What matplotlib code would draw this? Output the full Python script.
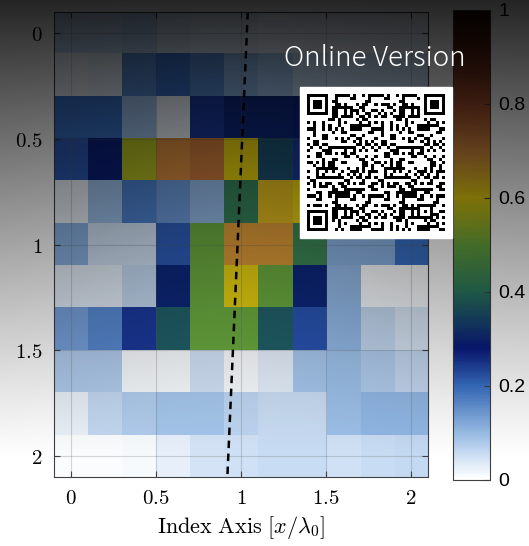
import matplotlib
matplotlib.use("Agg")
import matplotlib.pyplot as plt
import numpy as np
from matplotlib.colors import LinearSegmentedColormap
from matplotlib.patches import Rectangle

plt.rcParams['mathtext.fontset'] = 'cm'

# cell centres (x/lambda0 and index axis)
x_centers = [0, 0.2, 0.4, 0.6, 0.8, 1.0, 1.2, 1.4, 1.6, 1.8, 2.0]
y_centers = [0, 0.2, 0.4, 0.6, 0.8, 1.0, 1.2, 1.4, 1.6, 1.8, 2.0]

# values (rows top -> bottom)
values = [
    [0.07, 0.07, 0.08, 0.05, 0.04, 0.04, 0.03, 0.03, 0.03, 0.03, 0.03],
    [0.02, 0.03, 0.17, 0.20, 0.17, 0.12, 0.10, 0.07, 0.06, 0.06, 0.06],
    [0.20, 0.20, 0.10, 0.02, 0.25, 0.30, 0.30, 0.29, 0.20, 0.12, 0.10],
    [0.22, 0.29, 0.56, 0.70, 0.73, 0.60, 0.35, 0.25, 0.15, 0.10, 0.08],
    [0.02, 0.10, 0.18, 0.15, 0.11, 0.42, 0.63, 0.60, 0.30, 0.12, 0.08],
    [0.12, 0.05, 0.05, 0.22, 0.50, 0.68, 0.68, 0.43, 0.12, 0.12, 0.20],
    [0.03, 0.03, 0.06, 0.30, 0.50, 0.60, 0.50, 0.30, 0.11, 0.01, 0.01],
    [0.14, 0.17, 0.25, 0.37, 0.50, 0.50, 0.37, 0.23, 0.11, 0.06, 0.04],
    [0.08, 0.08, 0.01, 0.01, 0.05, 0.01, 0.03, 0.09, 0.10, 0.08, 0.06],
    [0.02, 0.06, 0.08, 0.09, 0.09, 0.07, 0.055, 0.055, 0.10, 0.11, 0.11],
    [0.005, 0.005, 0.01, 0.025, 0.045, 0.05, 0.055, 0.055, 0.05, 0.055, 0.06],
]

dash_x = [1.04, 0.92]
dash_y = [-0.1, 2.1]

x_ticks = [0, 0.5, 1, 1.5, 2]
y_ticks = [0, 0.5, 1, 1.5, 2]
cb_ticks = [0, 0.2, 0.4, 0.6, 0.8, 1]

cmap = LinearSegmentedColormap.from_list("custom", [
    (0.0, "#ffffff"), (0.1, "#9cc0ea"), (0.2, "#3a72c8"), (0.28, "#0a1a80"),
    (0.4, "#2a7860"), (0.5, "#68a840"), (0.6, "#e2cc10"), (0.7, "#d88e40"),
    (0.8, "#a85030"), (0.9, "#602818"), (1.0, "#200800")])

fig = plt.figure(figsize=(5.29, 5.46), dpi=100)
ax = fig.add_axes([0.102, 0.126, 0.707, 0.852])

dx = (x_centers[1] - x_centers[0]) / 2
dy = (y_centers[1] - y_centers[0]) / 2
im = ax.imshow(np.array(values), cmap=cmap, vmin=0, vmax=1, aspect='auto',
               interpolation='nearest',
               extent=[x_centers[0] - dx, x_centers[-1] + dx,
                       y_centers[-1] + dy, y_centers[0] - dy])
ax.plot(dash_x, dash_y, color='black', ls=(0, (3, 2.2)), lw=1.8)

ax.set_xticks(x_ticks)
ax.set_yticks(y_ticks)
ax.set_xticklabels(['$%g$' % t for t in x_ticks], fontsize=15)
ax.set_yticklabels(['$%g$' % t for t in y_ticks], fontsize=15)
ax.tick_params(direction='in', top=True, right=True, length=4, color='#404040', pad=8)
ax.grid(True, color='#606060', alpha=0.25, lw=0.8)
for s in ax.spines.values():
    s.set_color('#404040')
ax.set_xlabel(r'$\mathrm{Index\ Axis}\ [x/\lambda_0]$', fontsize=16, labelpad=4)

cax = fig.add_axes([0.856, 0.121, 0.070, 0.861])
cb = fig.colorbar(im, cax=cax, ticks=cb_ticks)
cb.ax.set_yticklabels(['%g' % t for t in cb_ticks], family='Liberation Sans', fontsize=14)
cb.ax.tick_params(direction='in', length=4, color='#404040', pad=6)
cb.outline.set_edgecolor('#404040')

# dark vignette from the top, then the overlay box
ov = fig.add_axes([0, 0, 1, 1], zorder=10)
ov.set_xlim(0, 529)
ov.set_ylim(546, 0)
ov.axis('off')
ov.patch.set_alpha(0)
yy, xx = np.mgrid[0:546, 0:529]
vert = 0.86 * np.clip(1 - yy / 460.0, 0, 1) ** 1.1
centre = np.exp(-((xx - 240) / 170.0) ** 2)
alpha = vert * (1 - 0.45 * (yy / 460.0).clip(0, 1) * centre)
shade = np.zeros((546, 529, 4))
shade[..., 3] = alpha
ov.imshow(shade, extent=[0, 529, 546, 0], aspect='auto', interpolation='bilinear')

ov.add_patch(Rectangle((300, 87), 152, 151, color='white', zorder=3))
n = 45
qr = np.zeros((n, n))
ii, jj = np.meshgrid(np.arange(n), np.arange(n), indexing='ij')
qr[(ii * ii * jj + 3 * jj * jj + 5 * ii + (ii // 3) * (jj // 2)) % 11 < 5] = 1
for (r0, c0) in [(0, 0), (0, n - 7), (n - 7, 0)]:
    qr[max(r0 - 1, 0):r0 + 8, max(c0 - 1, 0):c0 + 8] = 0
    qr[r0:r0 + 7, c0:c0 + 7] = 1
    qr[r0 + 1:r0 + 6, c0 + 1:c0 + 6] = 0
    qr[r0 + 2:r0 + 5, c0 + 2:c0 + 5] = 1
qr[n - 9:n - 4, n - 9:n - 4] = 1
qr[n - 8:n - 5, n - 8:n - 5] = 0
qr[n - 7, n - 7] = 1
ov.imshow(qr, cmap='gray_r', vmin=0, vmax=1, extent=[307, 445, 231, 94],
          aspect='auto', interpolation='nearest', zorder=4)
ov.text(375, 58, 'Online Version', color='white', fontsize=20, family='Noto Sans CJK JP',
        fontweight='light', ha='center', va='center', zorder=5)

fig.savefig('out.png', dpi=100)
